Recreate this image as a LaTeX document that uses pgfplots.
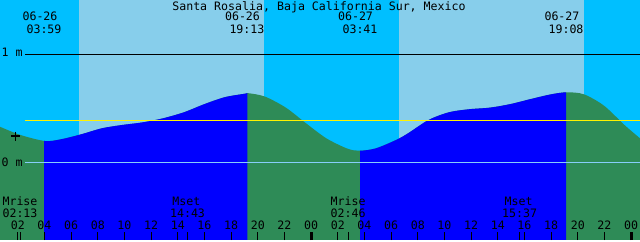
\documentclass[border=0pt]{standalone}
\usepackage{pgfplots}
\pgfplotsset{compat=1.18}
\usepgfplotslibrary{fillbetween}
\usepackage{fontspec}
\setmonofont{DejaVu Sans Mono}
\newcommand\mf{\ttfamily\fontsize{11.6bp}{13bp}\selectfont}
\definecolor{skydeep}{RGB}{0,191,255}
\definecolor{skylight}{RGB}{135,206,235}
\definecolor{tideday}{RGB}{0,0,255}
\definecolor{tidenight}{RGB}{46,139,87}
\definecolor{zeroline}{RGB}{135,206,250}
\tikzset{fill between/on layer=main}
\pgfplotstableread{
t m
0.667 0.331
2.197 0.255
4.042 0.199
5.242 0.215
6.787 0.262
8.317 0.317
9.817 0.347
11.392 0.372
12.892 0.409
14.467 0.465
15.967 0.539
17.504 0.604
19.042 0.637
19.342 0.641
20.542 0.610
22.117 0.507
23.617 0.363
25.154 0.223
26.692 0.130
27.592 0.109
28.829 0.130
30.367 0.208
31.267 0.270
32.812 0.394
34.342 0.465
35.842 0.493
37.417 0.508
38.917 0.540
40.492 0.588
41.992 0.631
43.192 0.650
44.467 0.631
45.967 0.526
47.504 0.347
48.667 0.224
}\tide
\begin{document}
\begin{tikzpicture}
\begin{axis}[
  scale only axis, width=640bp, height=240bp,
  xmin=0.6667, xmax=48.6667, ymin=-0.71759, ymax=1.50463,
  axis line style={draw=none},
  axis background/.style={fill=skydeep},
  axis on top,
  ytick=\empty,
  xtick={2,4,6,8,10,12,14,16,18,20,22,26,28,30,32,34,36,38,40,42,44,46},
  xticklabels={02,04,06,08,10,12,14,16,18,20,22,02,04,06,08,10,12,14,16,18,20,22},
  extra x ticks={24,48}, extra x tick labels={00,00},
  extra x tick style={every tick/.append style={line width=3bp}},
  xtick pos=bottom,
  tick align=inside, major tick length=8.3bp,
  every tick/.style={black, line width=1bp},
  xticklabel style={font=\mf, anchor=base, yshift=10.7bp, inner sep=0pt},
]
% sky bands
\addplot[fill=skylight, draw=none] coordinates {(6.592,-0.72) (6.592,1.51) (20.467,1.51) (20.467,-0.72)} --cycle;
\addplot[fill=skylight, draw=none] coordinates {(30.592,-0.72) (30.592,1.51) (44.467,1.51) (44.467,-0.72)} --cycle;
% tide curve
\addplot[name path=tide, draw=none, smooth] table[x=t, y=m] {\tide};
\addplot[name path=bot, draw=none] coordinates {(0.6667,-0.71759) (48.6667,-0.71759)};
\addplot[tidenight] fill between[of=tide and bot];
\addplot[tideday] fill between[of=tide and bot, soft clip={domain=3.983:19.217}];
\addplot[tideday] fill between[of=tide and bot, soft clip={domain=27.683:43.133}];
% reference lines
\addplot[black, line width=1bp] coordinates {(2.542,1) (48.667,1)};
\addplot[zeroline, line width=1bp] coordinates {(2.542,0) (48.667,0)};
\addplot[yellow, line width=1bp] coordinates {(2.542,0.389) (48.667,0.389)};
% marker
\addplot[only marks, mark=+, mark size=4.5bp, black, line width=1.2bp] coordinates {(1.83,0.245)};
% moon event ticks
\addplot[black, line width=1bp] coordinates {(2.217,-0.71759) (2.217,-0.641)};
\addplot[black, line width=1bp] coordinates {(14.717,-0.71759) (14.717,-0.641)};
\addplot[black, line width=1bp] coordinates {(26.767,-0.71759) (26.767,-0.641)};
\addplot[black, line width=1bp] coordinates {(39.617,-0.71759) (39.617,-0.641)};
% texts
\tikzset{every node/.style={font=\mf, inner sep=0pt}}
\node[anchor=base] at (rel axis cs:0.4984,0.9583) {Santa Rosalia, Baja California Sur, Mexico};
\node[anchor=base] at (rel axis cs:0.0625,0.9138) {06-26};
\node[anchor=base] at (rel axis cs:0.06875,0.8613) {03:59};
\node[anchor=base] at (rel axis cs:0.3789,0.9138) {06-26};
\node[anchor=base] at (rel axis cs:0.3859,0.8613) {19:13};
\node[anchor=base] at (rel axis cs:0.5555,0.9138) {06-27};
\node[anchor=base] at (rel axis cs:0.5625,0.8613) {03:41};
\node[anchor=base] at (rel axis cs:0.8781,0.9138) {06-27};
\node[anchor=base] at (rel axis cs:0.8844,0.8613) {19:08};
\node[anchor=base west] at (rel axis cs:0.0023,0.7625) {1 m};
\node[anchor=base west] at (rel axis cs:0.0023,0.3083) {0 m};
\node[anchor=base] at (rel axis cs:0.03125,0.1417) {Mrise};
\node[anchor=base] at (rel axis cs:0.03125,0.0929) {02:13};
\node[anchor=base] at (rel axis cs:0.2911,0.1417) {Mset};
\node[anchor=base] at (rel axis cs:0.293,0.0929) {14:43};
\node[anchor=base] at (rel axis cs:0.5438,0.1417) {Mrise};
\node[anchor=base] at (rel axis cs:0.5438,0.0929) {02:46};
\node[anchor=base] at (rel axis cs:0.8102,0.1417) {Mset};
\node[anchor=base] at (rel axis cs:0.812,0.0929) {15:37};
\end{axis}
\end{tikzpicture}
\end{document}
